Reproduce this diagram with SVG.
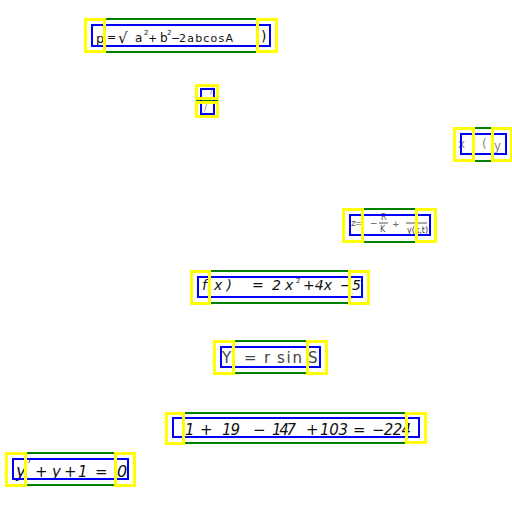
<svg xmlns="http://www.w3.org/2000/svg" width="512" height="512" viewBox="0 0 512 512">
<style>
.g{fill:none;stroke:#008000;stroke-width:2}
.b{fill:none;stroke:#0000ff;stroke-width:2}
.y{fill:none;stroke:#ffff00;stroke-width:3}
.l{stroke:#555;stroke-width:1}
text{font-family:"DejaVu Sans","Liberation Sans",sans-serif;fill:#111;stroke:none}
.t1{font-size:11px}
.t4{font-size:8px;fill:#555}
.t5{font-size:14px;font-style:italic}
.t6{font-size:15px;fill:#444}
.t7{font-size:15px;font-style:italic}
.t8{font-size:15px;font-style:italic}
.f{fill:#888;font-size:12px}
.s{font-size:7px}
</style>
<rect width="512" height="512" fill="#fff"/>
<g id="node-1">
<text class="t1" x="96" y="43" style="font-size:13px">p</text>
<text class="t1" x="107" y="41">=</text>
<text class="t1" x="118" y="43" style="font-size:15px">√</text>
<text class="t1" x="135" y="42" style="font-size:12px">a</text>
<text class="s" x="144" y="35">2</text>
<text class="t1" x="148" y="42">+</text>
<text class="t1" x="160" y="42" style="font-size:12px">b</text>
<text class="s" x="167" y="35">2</text>
<text class="t1" x="171" y="42">−</text>
<text class="t1" x="179" y="42" textLength="54">2abcosA</text>
<text class="t1" x="261" y="41" style="font-size:14px">)</text>
<rect class="g" x="85" y="19" width="191" height="33"/>
<rect class="b" x="92" y="25" width="178" height="21"/>
<rect class="y" x="85.5" y="19.5" width="19" height="32"/>
<rect class="y" x="257.5" y="19.5" width="19" height="32"/>
</g>
<g id="node-2">
<text class="f" x="204" y="111" style="font-size:9px">/</text>
<text class="f" x="210" y="94" style="font-size:9px">/</text>
<rect class="g" x="197" y="100" width="20" height="1"/>
<rect class="b" x="201" y="89" width="13" height="25"/>
<rect class="y" x="196.5" y="85.5" width="21" height="13"/>
<rect class="y" x="196.5" y="102.5" width="21" height="14"/>
</g>
<g id="node-3">
<text class="f" x="458" y="148">x</text>
<text class="f" x="482" y="148">(</text>
<text class="f" x="494" y="150">y</text>
<rect class="g" x="454" y="128" width="58" height="33"/>
<rect class="b" x="461" y="134" width="45" height="20"/>
<rect class="y" x="454.5" y="128.5" width="19" height="32"/>
<rect class="y" x="492.5" y="128.5" width="19" height="32"/>
</g>
<g id="node-4">
<text class="t4" x="351" y="226" textLength="11" style="font-size:9px">z=</text>
<text class="t4" x="370" y="226" style="font-size:9px">−</text>
<text class="t4" x="381" y="220">R</text>
<path class="l" d="M379 223H388M406 223H427"/>
<text class="t4" x="380" y="232">K</text>
<text class="t4" x="392" y="227" style="font-size:9px">+</text>
<text class="t4" x="407" y="233" textLength="21" style="fill:#333">y(x,t)</text>
<rect class="g" x="343" y="209" width="93" height="33"/>
<rect class="b" x="350" y="215" width="80" height="20"/>
<rect class="y" x="343.5" y="209.5" width="19" height="32"/>
<rect class="y" x="416.5" y="209.5" width="19" height="32"/>
</g>
<g id="node-5">
<text class="t5" x="202" y="290">f</text>
<text class="t5" x="214" y="290" textLength="18">x)</text>
<text class="t5" x="252" y="290">=</text>
<text class="t5" x="272" y="290">2</text>
<text class="t5" x="285" y="290">x</text>
<text class="s" x="296" y="283">2</text>
<text class="t5" x="303" y="290" textLength="29">+4x</text>
<text class="t5" x="340" y="290">−</text>
<text class="t5" x="352" y="290">5</text>
<rect class="g" x="191" y="271" width="178" height="32"/>
<rect class="b" x="198" y="277" width="164" height="20"/>
<rect class="y" x="191.5" y="271.5" width="18" height="32"/>
<rect class="y" x="349.5" y="271.5" width="19" height="32"/>
</g>
<g id="node-6">
<text class="t6" x="222" y="363">Y</text>
<text class="t6" x="244" y="363">=</text>
<text class="t6" x="264" y="363">r</text>
<text class="t6" x="277" y="363" textLength="25">sin</text>
<text class="t6" x="308" y="363">S</text>
<rect class="g" x="214" y="341" width="113" height="32"/>
<rect class="b" x="221" y="347" width="99" height="20"/>
<rect class="y" x="214.5" y="341.5" width="19" height="32"/>
<rect class="y" x="307.5" y="341.5" width="19" height="32"/>
</g>
<g id="node-7">
<text class="t7" x="185" y="435">1</text>
<text class="t7" x="200" y="435">+</text>
<text class="t7" x="222" y="435" textLength="18">19</text>
<text class="t7" x="253" y="435">−</text>
<text class="t7" x="272" y="435" textLength="24">147</text>
<text class="t7" x="306" y="435">+</text>
<text class="t7" x="320" y="435" textLength="28">103</text>
<text class="t7" x="353" y="435">=</text>
<text class="t7" x="372" y="435" textLength="39">−224</text>
<rect class="g" x="166" y="413" width="260" height="30"/>
<rect class="b" x="173" y="418" width="246" height="19"/>
<rect class="y" x="166.5" y="413.5" width="17" height="30"/>
<rect class="y" x="406.5" y="413.5" width="19" height="29"/>
</g>
<g id="node-8">
<text class="t8" x="16" y="477" style="font-size:17px">y</text>
<text class="s" x="27" y="463">7</text>
<text class="t8" x="35" y="477">+</text>
<text class="t8" x="52" y="477">y</text>
<text class="t8" x="64" y="477">+</text>
<text class="t8" x="78" y="477">1</text>
<text class="t8" x="95" y="477">=</text>
<text class="t8" x="117" y="477" style="font-size:16px">0</text>
<rect class="g" x="6" y="453" width="129" height="32"/>
<rect class="b" x="13" y="459" width="115" height="20"/>
<rect class="y" x="6.5" y="453.5" width="19" height="32"/>
<rect class="y" x="115.5" y="453.5" width="19" height="32"/>
</g>
<g id="connectors"></g>
</svg>
